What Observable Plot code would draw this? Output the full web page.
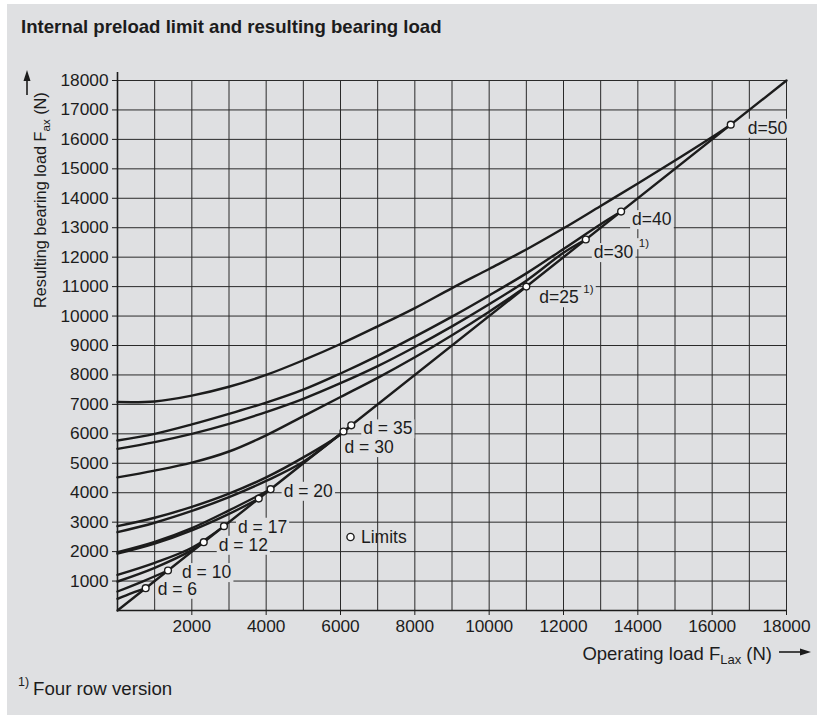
<!DOCTYPE html>
<html><head><meta charset="utf-8">
<script src="https://cdn.jsdelivr.net/npm/d3@7"></script>
<script src="https://cdn.jsdelivr.net/npm/@observablehq/plot@0.6"></script>
<style>
html,body{margin:0;padding:0;background:#fff;}
#panel{position:absolute;left:7px;top:4px;width:810px;height:711px;background:#dfe0e2;}
#chart{position:absolute;left:0;top:0;}
</style></head><body>
<div id="panel"></div>
<div id="chart"></div>
<script>
// ---------- data ----------
const xTicks = [2000, 4000, 6000, 8000, 10000, 12000, 14000, 16000, 18000];
const yTicks = [1000, 2000, 3000, 4000, 5000, 6000, 7000, 8000, 9000, 10000, 11000, 12000, 13000, 14000, 15000, 16000, 17000, 18000];
const gridValues = [0, 1000, 2000, 3000, 4000, 5000, 6000, 7000, 8000, 9000, 10000, 11000, 12000, 13000, 14000, 15000, 16000, 17000, 18000];

// operating load -> resulting bearing load, per bearing size
const curveD50 = [[0,7080],[1000,7100],[2000,7300],[3000,7600],[4000,8000],[5000,8500],[6000,9050],[7000,9650],[8000,10270],[9000,10950],[10000,11600],[11000,12260],[12000,12980],[13000,13740],[14000,14500],[15000,15280],[16000,16080],[16500,16500]];
const curveD40 = [[0,5775],[1000,6000],[2000,6320],[3000,6680],[4000,7060],[5000,7500],[6000,8050],[7000,8650],[8000,9300],[9000,9980],[10000,10700],[11000,11450],[12000,12280],[13000,13120],[13550,13550]];
const curveD30four = [[0,5490],[1000,5720],[2000,6000],[3000,6340],[4000,6740],[5000,7190],[6000,7720],[7000,8300],[8000,8950],[9000,9650],[10000,10400],[11000,11200],[12000,12150],[12600,12600]];
const curveD25four = [[0,4520],[1000,4750],[2000,5020],[3000,5400],[4000,5950],[5000,6600],[6000,7250],[7000,7900],[8000,8600],[9000,9350],[10000,10150],[11000,11000]];
const curveD35 = [[0,2865],[1000,3150],[2000,3520],[3000,3970],[4000,4520],[5000,5200],[6000,5980],[6290,6290]];
const curveD30 = [[0,2660],[1000,2980],[2000,3380],[3000,3850],[4000,4400],[5000,5050],[6080,6080]];
const curveD20 = [[0,1980],[1000,2330],[2000,2800],[3000,3400],[4120,4120]];
const curveDx = [[0,1930],[1000,2270],[2000,2720],[3000,3280],[3800,3800]];
const curveD17 = [[0,1210],[1000,1620],[2000,2130],[2865,2865]];
const curveD12 = [[0,985],[1000,1450],[2000,2050],[2320,2320]];
const curveD10 = [[0,645],[700,1000],[1359,1359]];
const curveD6 = [[0,397],[400,600],[758,758]];
const equalLine = [[0,0],[18000,18000]];

const limitLoads  = [758, 1359, 2320, 2865, 3800, 4120, 6080, 6290, 11000, 12600, 13550, 16500];
const limitLabels = ["d = 6", "d = 10", "d = 12", "d = 17", "", "d = 20", "d = 30", "d = 35", "d=25", "d=30", "d=40", "d=50"];
const limitFootnote = [false, false, false, false, false, false, false, false, true, true, false, false];

// ---------- layout (pixel offsets of labels from their limit point) ----------
const labelOffset = {
  "d = 6": [12, 1], "d = 10": [14, 2], "d = 12": [15, 3], "d = 17": [14, 1], "d = 20": [13, 2],
  "d = 30": [1, 16], "d = 35": [12, 3.5], "d=25": [13, 11], "d=30": [8, 13], "d=40": [11, 8], "d=50": [17, 3.5]
};
const supOffset = {"d=25": [57, 3], "d=30": [53, 4]};

const curves = [curveD50, curveD40, curveD30four, curveD25four, curveD35, curveD30, curveD20, curveDx, curveD17, curveD12, curveD10, curveD6, equalLine];
const lineRows = curves.flatMap((c, i) => c.map(([x, y]) => ({series: i, x, y})));
const limitRows = limitLoads.map((v, i) => ({v, label: limitLabels[i], foot: limitFootnote[i]}));

const BG = "#dfe0e2";
const INK = "#1c1c1c";
const FONT = "'Liberation Sans', Arial, Helvetica, sans-serif";

const labelMarks = limitRows.filter(d => d.label).map(d => Plot.text([d], {
  x: "v", y: "v", text: "label", textAnchor: "start", dx: labelOffset[d.label][0], dy: labelOffset[d.label][1],
  fontSize: 17.5, fill: INK, className: "boxed"
}));
const supMarks = limitRows.filter(d => d.foot).map(d => Plot.text([d], {
  x: "v", y: "v", text: () => "1)", textAnchor: "start", dx: supOffset[d.label][0], dy: supOffset[d.label][1],
  fontSize: 11.5, fill: INK, className: "boxed"
}));

const chart = Plot.plot({
  width: 817, height: 717,
  marginLeft: 117, marginRight: 31, marginTop: 80, marginBottom: 107,
  style: {background: "transparent", fontFamily: FONT, fontSize: "17px", color: INK, overflow: "visible"},
  x: {domain: [0, 18000]},
  y: {domain: [0, 18000]},
  marks: [
    Plot.ruleX(gridValues, {stroke: "#2a2a2a", strokeWidth: 1}),
    Plot.ruleY(gridValues, {stroke: "#2a2a2a", strokeWidth: 1}),
    Plot.ruleX([0], {stroke: INK, strokeWidth: 1.6, insetTop: -8}),
    Plot.ruleY([0], {stroke: INK, strokeWidth: 1.6}),
    Plot.axisX({ticks: xTicks, tickSize: 5, tickPadding: 4, tickFormat: d => String(d), label: null, fontSize: 17.3, stroke: INK}),
    Plot.axisY({ticks: yTicks, tickSize: 5, tickPadding: 4, tickFormat: d => String(d), label: null, fontSize: 17.3, stroke: INK}),
    ...labelMarks,
    ...supMarks,
    Plot.line(lineRows, {x: "x", y: "y", z: "series", stroke: INK, strokeWidth: 2.4, curve: "catmull-rom"}),
    Plot.dot(limitRows, {x: "v", y: "v", r: 3.4, fill: "white", stroke: INK, strokeWidth: 1.4})
  ]
});
document.getElementById("chart").appendChild(chart);

// gray boxes behind the limit labels (hide the grid like the reference)
const svg = d3.select(chart);
svg.selectAll("g.boxed text").each(function() {
  const b = this.getBBox();
  const tr = this.getAttribute("transform");
  const r = d3.select(this.parentNode).insert("rect", () => this)
    .attr("x", b.x - 2).attr("y", b.y + 1).attr("width", b.width + 4).attr("height", b.height - 1)
    .attr("fill", BG);
  if (tr) r.attr("transform", tr);
});

// ---------- titles, axis labels, legend, footnote ----------
const t = svg.append("g").attr("font-family", FONT).attr("fill", INK).attr("text-anchor", "start");
t.append("text").attr("x", 21).attr("y", 33).attr("font-size", 18.6).attr("font-weight", "bold")
  .text("Internal preload limit and resulting bearing load");

const xl = t.append("text").attr("x", 772).attr("y", 660).attr("font-size", 18.5).attr("text-anchor", "end");
xl.append("tspan").text("Operating load F");
xl.append("tspan").attr("font-size", 13).attr("dy", 4).text("Lax");
xl.append("tspan").attr("dy", -4).text(" (N)");
t.append("line").attr("x1", 779).attr("x2", 802).attr("y1", 652).attr("y2", 652).attr("stroke", INK).attr("stroke-width", 1.6);
t.append("path").attr("d", "M811,652 L800,648.5 L800,655.5 Z").attr("fill", INK);

const yl = t.append("text").attr("transform", "translate(46,308) rotate(-90)").attr("font-size", 16.3).attr("text-anchor", "start");
yl.append("tspan").text("Resulting bearing load F");
yl.append("tspan").attr("font-size", 11.5).attr("dy", 4).text("ax");
yl.append("tspan").attr("dy", -4).text(" (N)");
t.append("line").attr("x1", 27).attr("x2", 27).attr("y1", 95).attr("y2", 78).attr("stroke", INK).attr("stroke-width", 1.6);
t.append("path").attr("d", "M27,70 L23.5,81 L30.5,81 Z").attr("fill", INK);

t.append("circle").attr("cx", 350.5).attr("cy", 537).attr("r", 3.6).attr("fill", "white").attr("stroke", INK).attr("stroke-width", 1.4);
t.append("text").attr("x", 361).attr("y", 543).attr("font-size", 17.5).text("Limits");

t.append("text").attr("x", 18).attr("y", 686).attr("font-size", 12.5).text("1)");
t.append("text").attr("x", 33).attr("y", 695).attr("font-size", 18.7).text("Four row version");
</script></body></html>
